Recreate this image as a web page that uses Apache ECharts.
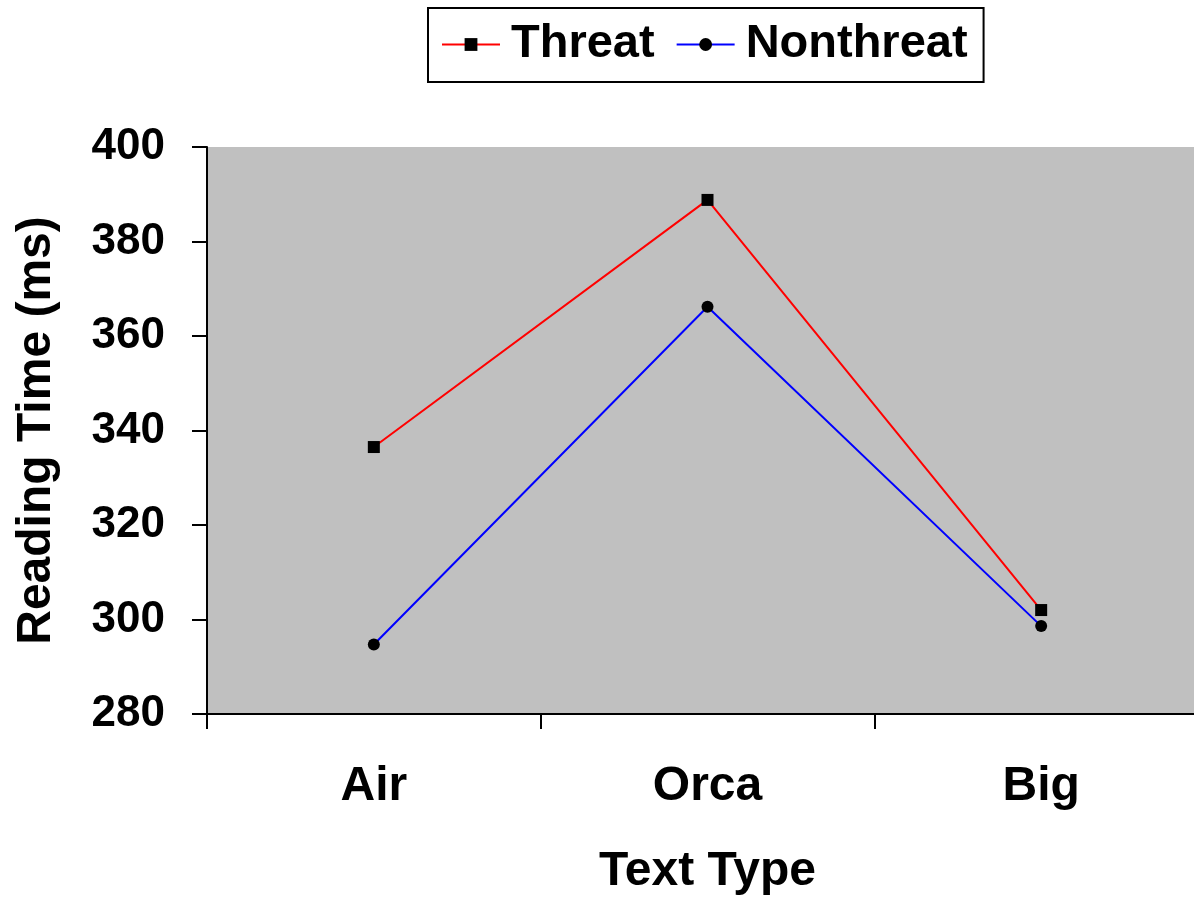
<!DOCTYPE html>
<html>
<head>
<meta charset="utf-8">
<script src="https://cdn.jsdelivr.net/npm/echarts@6/dist/echarts.min.js"></script>
<style>html,body{margin:0;padding:0;background:#fff;overflow:hidden;width:1194px;height:902px;}#c{width:1208px;height:902px;}</style>
</head>
<body>
<div id="c"></div>
<script>
const categories = ['Air', 'Orca', 'Big'];
const threat = [336.5, 388.8, 302.0];
const nonthreat = [294.7, 366.2, 298.6];
const yTicks = { min: 280, max: 400, interval: 20 };

const FONT = '"Liberation Sans", Arial, sans-serif';
const chart = echarts.init(document.getElementById('c'), null, { renderer: 'canvas' });
chart.setOption({
  animation: false,
  backgroundColor: '#ffffff',
  legend: {
    left: 428, top: 8,
    padding: [13, 16, 14, 13],
    borderColor: '#000', borderWidth: 2,
    itemWidth: 58, itemHeight: 16, itemGap: 21,
    textStyle: { fontFamily: FONT, fontWeight: 'bold', fontSize: 47, color: '#000', padding: [0, 0, 0, 6] },
    data: ['Threat', 'Nonthreat']
  },
  grid: {
    left: 207, top: 147, bottom: 188, right: 0,
    show: true, backgroundColor: '#c0c0c0', borderWidth: 0,
    containLabel: false
  },
  xAxis: {
    type: 'category', data: categories, boundaryGap: true,
    name: 'Text Type', nameLocation: 'middle', nameGap: 134,
    nameTextStyle: { fontFamily: FONT, fontWeight: 'bold', fontSize: 48, color: '#000' },
    axisLine: { lineStyle: { color: '#000', width: 2 } },
    axisTick: { show: true, length: 15, inside: false, lineStyle: { color: '#000', width: 2 } },
    axisLabel: { margin: 49, fontFamily: FONT, fontWeight: 'bold', fontSize: 48, color: '#000' },
    splitLine: { show: false }
  },
  yAxis: {
    type: 'value', min: yTicks.min, max: yTicks.max, interval: yTicks.interval,
    name: 'Reading Time (ms)', nameLocation: 'middle', nameGap: 146, nameRotate: 90,
    nameTextStyle: { fontFamily: FONT, fontWeight: 'bold', fontSize: 48, color: '#000' },
    axisLine: { show: true, lineStyle: { color: '#000', width: 2 } },
    axisTick: { show: true, length: 15, inside: false, lineStyle: { color: '#000', width: 2 } },
    axisLabel: { margin: 42, fontFamily: FONT, fontWeight: 'bold', fontSize: 44, color: '#000' },
    splitLine: { show: false }
  },
  series: [
    {
      name: 'Threat', type: 'line', data: threat,
      symbol: 'rect', symbolSize: 12,
      lineStyle: { color: '#ff0000', width: 2 },
      itemStyle: { color: '#000', borderWidth: 0 },
      color: '#ff0000'
    },
    {
      name: 'Nonthreat', type: 'line', data: nonthreat,
      symbol: 'circle', symbolSize: 12,
      lineStyle: { color: '#0000ff', width: 2 },
      itemStyle: { color: '#000', borderWidth: 0 },
      color: '#0000ff'
    }
  ]
});
</script>
</body>
</html>
